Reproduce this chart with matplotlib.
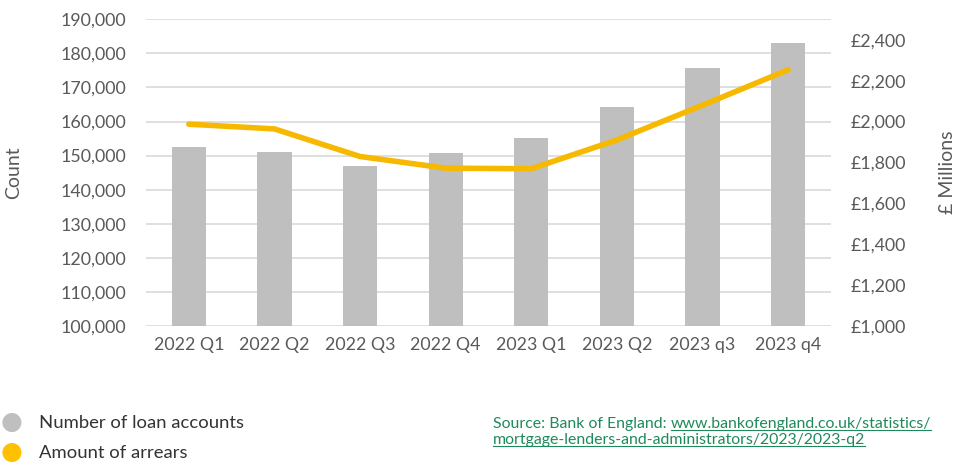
import matplotlib
matplotlib.use("Agg")
import matplotlib.pyplot as plt
from matplotlib.ticker import FuncFormatter, FixedLocator

categories = ["2022 Q1", "2022 Q2", "2022 Q3", "2022 Q4", "2023 Q1", "2023 Q2", "2023 q3", "2023 q4"]
loan_accounts = [152600, 151100, 146900, 150650, 155200, 164150, 175750, 183080]
arrears_millions = [1987, 1964, 1829, 1772, 1769, 1910, 2080, 2253]
left_ticks = list(range(100000, 190001, 10000))
right_ticks = list(range(1000, 2401, 200))

plt.rcParams['font.family'] = ['Lato', 'DejaVu Sans']
TXT = '#595959'
GRID = '#D9D9D9'
BAR = '#BFBFBF'
LINE = '#F7B900'

fig = plt.figure(figsize=(9.57, 4.65), dpi=100)
ax = fig.add_axes([146/957, 1-326/465, (831-146)/957, (326-19.3)/465])
x = list(range(len(categories)))
ax.bar(x, loan_accounts, width=0.4, color=BAR, zorder=2)
ax.set_xlim(-0.5, len(categories)-0.5)
ax.set_ylim(100000, 190000)
ax.yaxis.set_major_locator(FixedLocator(left_ticks))
ax.yaxis.set_major_formatter(FuncFormatter(lambda v, p: f"{int(v):,}"))
ax.grid(axis='y', color=GRID, linewidth=1.2, zorder=0)
ax.set_axisbelow(True)
for s in ax.spines.values():
    s.set_visible(False)
ax.set_xticks(x)
ax.set_xticklabels(categories)
ax.tick_params(axis='both', length=0, labelsize=12.8, labelcolor=TXT)
ax.tick_params(axis='y', pad=14)
ax.tick_params(axis='x', pad=8)
ax.set_ylabel("Count", fontsize=14, color=TXT, labelpad=28)

ax2 = ax.twinx()
ax2.plot(x, arrears_millions, color=LINE, linewidth=4, solid_capstyle='round', solid_joinstyle='round', zorder=3)
ax2.set_ylim(1000, 2500)
ax2.yaxis.set_major_locator(FixedLocator(right_ticks))
ax2.yaxis.set_major_formatter(FuncFormatter(lambda v, p: f"£{int(v):,}"))
for s in ax2.spines.values():
    s.set_visible(False)
ax2.tick_params(axis='y', length=0, labelsize=12.8, labelcolor=TXT, pad=14)
ax2.set_ylabel("£ Millions", fontsize=14, color=TXT, labelpad=24)

# legend
fig.text(12/957, 1-422/465, "●", fontsize=18, color=BAR, ha='center', va='center', family='DejaVu Sans')
fig.text(12/957, 1-452/465, "●", fontsize=18, color='#FFC000', ha='center', va='center', family='DejaVu Sans')
fig.text(39/957, 1-423/465, "Number of loan accounts", fontsize=13.3, color='#333333', va='center')
fig.text(39/957, 1-453/465, "Amount of arrears", fontsize=13.3, color='#333333', va='center')

SRC = '#1E8A5C'
FS = 11.4
t0 = fig.text(493/957, 1-424/465, "Source: Bank of England: ", fontsize=FS, color=SRC, va='center')
fig.canvas.draw()
r = fig.canvas.get_renderer()
bb0 = t0.get_window_extent(r)
t1 = fig.text(bb0.x1/fig.bbox.width, 1-424/465, "www.bankofengland.co.uk/statistics/", fontsize=FS, color=SRC, va='center')
t2 = fig.text(493/957, 1-440/465, "mortgage-lenders-and-administrators/2023/2023-q2", fontsize=FS, color=SRC, va='center')

fig.canvas.draw()
for t in (t1, t2):
    bb = t.get_window_extent(r)
    x0, x1 = bb.x0/fig.bbox.width, bb.x1/fig.bbox.width
    y0 = (bb.y0 + 1.5)/fig.bbox.height
    fig.add_artist(plt.Line2D([x0, x1], [y0, y0], color=SRC, linewidth=0.8, transform=fig.transFigure))

fig.savefig("out.png", dpi=100)
